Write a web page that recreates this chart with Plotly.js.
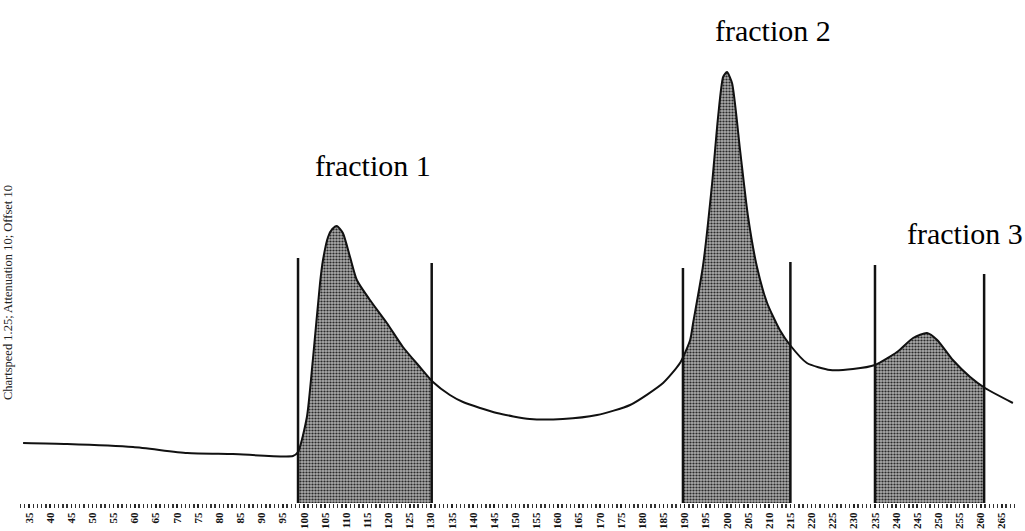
<!DOCTYPE html>
<html>
<head>
<meta charset="utf-8">
<script src="https://cdn.plot.ly/plotly-3.0.1.min.js"></script>
<style>
  html, body { margin: 0; padding: 0; background: #fff; }
  #chart { width: 1025px; height: 531px; }
</style>
</head>
<body>
<div id="chart"></div>
<script>
// Detector trace: retention position vs. signal (arbitrary units)
const retention = [
  33.6, 44.0, 59.6, 72.4, 83.2, 97.4, 98.6, 100.7, 102.1, 103.8, 104.5, 105.7,
  106.7, 107.8, 109.2, 110.9, 112.5, 115.6, 119.6, 123.4, 127.4, 130.5, 134.5,
  137.6, 145.6, 153.4, 161.2, 169.3, 177.1, 184.9, 188.9, 191.3, 192.0, 194.3,
  196.5, 197.9, 199.1, 200.0, 201.2, 203.1, 205.0, 207.1, 209.5, 212.5, 214.9,
  218.9, 224.4, 229.8, 235.0, 240.2, 244.0, 247.3, 249.7, 253.4, 257.5, 261.0,
  267.6
];
const signal = [
  62, 61, 58, 52, 51, 49, 53, 88, 145, 222, 245, 268,
  276, 279, 272, 248, 225, 205, 182, 158, 138, 123, 110,
  103, 92, 86, 86, 90, 100, 122, 142, 165, 182, 238,
  322, 388, 428, 433, 422, 355, 288, 238, 202, 175, 160,
  142, 135, 136, 140, 153, 167, 172, 165, 145, 128, 117,
  102
];

// Fraction cut markers (start, end pairs) and their drawn heights
const cutPoints = [98.6, 130.2, 189.6, 215.0, 235.0, 260.8];
const cutHeights = [247, 242, 237, 243, 240, 231];
const fractionNames = ['fraction 1', 'fraction 2', 'fraction 3'];

// Axis labelling
const tickStart = 35;
const tickStep = 5;
const axisTitle = 'Chartspeed 1.25; Attenuation 10; Offset 10';

function interpAt(x) {
  for (let i = 0; i < retention.length - 1; i++) {
    if (x >= retention[i] && x <= retention[i + 1]) {
      const t = (x - retention[i]) / (retention[i + 1] - retention[i]);
      return signal[i] + t * (signal[i + 1] - signal[i]);
    }
  }
  return signal[signal.length - 1];
}

function segment(lo, hi) {
  const xs = [lo], ys = [interpAt(lo)];
  retention.forEach((x, i) => {
    if (x > lo && x < hi) { xs.push(x); ys.push(signal[i]); }
  });
  xs.push(hi); ys.push(interpAt(hi));
  return { xs, ys };
}

const traces = [];
const smooth = 0.6;

// Shaded fractions under the trace
for (let k = 0; k < cutPoints.length; k += 2) {
  const seg = segment(cutPoints[k], cutPoints[k + 1]);
  traces.push({
    x: seg.xs, y: seg.ys, type: 'scatter', mode: 'lines',
    line: { width: 0, shape: 'spline', smoothing: smooth },
    fill: 'tozeroy',
    fillcolor: '#999999',
    fillpattern: { shape: '.', bgcolor: '#ababab', fgcolor: '#2a2a2a', size: 3, solidity: 0.42 },
    hoverinfo: 'skip', showlegend: false
  });
}

// Cut marker lines
cutPoints.forEach((c, i) => {
  traces.push({
    x: [c, c], y: [0, cutHeights[i]], type: 'scatter', mode: 'lines',
    line: { color: '#111', width: 2.5 },
    hoverinfo: 'skip', showlegend: false
  });
});

// The detector trace itself
traces.push({
  x: retention, y: signal, type: 'scatter', mode: 'lines',
  line: { color: '#111', width: 2, shape: 'spline', smoothing: smooth },
  showlegend: false
});

const serif = 'Liberation Serif, Times New Roman, serif';

const layout = {
  width: 1025, height: 531,
  margin: { l: 20, r: 10, t: 3, b: 28 },
  paper_bgcolor: '#fff', plot_bgcolor: '#fff',
  showlegend: false,
  xaxis: {
    range: [32.87, 268.1],
    tick0: tickStart, dtick: tickStep,
    ticks: 'outside', ticklen: 4, tickwidth: 1.6, tickcolor: '#222',
    tickangle: -90,
    tickfont: { family: serif, size: 11, color: '#111', weight: 'bold' },
    minor: { tick0: tickStart, dtick: 1, ticks: 'outside', ticklen: 4, tickwidth: 1.4, tickcolor: '#333', showgrid: false },
    showgrid: false, zeroline: false, showline: false,
    fixedrange: true
  },
  yaxis: {
    range: [2, 502],
    showticklabels: false, ticks: '', showgrid: false, zeroline: false, showline: false,
    fixedrange: true
  },
  annotations: [
    { text: fractionNames[0], x: 116.3, y: 340, xref: 'x', yref: 'y', showarrow: false,
      font: { family: serif, size: 30, color: '#000' }, xanchor: 'center', yanchor: 'middle' },
    { text: fractionNames[1], x: 210.9, y: 475, xref: 'x', yref: 'y', showarrow: false,
      font: { family: serif, size: 30, color: '#000' }, xanchor: 'center', yanchor: 'middle' },
    { text: fractionNames[2], x: 256.3, y: 272, xref: 'x', yref: 'y', showarrow: false,
      font: { family: serif, size: 30, color: '#000' }, xanchor: 'center', yanchor: 'middle' },
    { text: axisTitle, x: -0.012, y: 0.42, xref: 'paper', yref: 'paper', showarrow: false,
      textangle: -90, font: { family: serif, size: 12.5, color: '#222' },
      xanchor: 'center', yanchor: 'middle' }
  ]
};

Plotly.newPlot('chart', traces, layout, { staticPlot: true, displayModeBar: false });
</script>
</body>
</html>
